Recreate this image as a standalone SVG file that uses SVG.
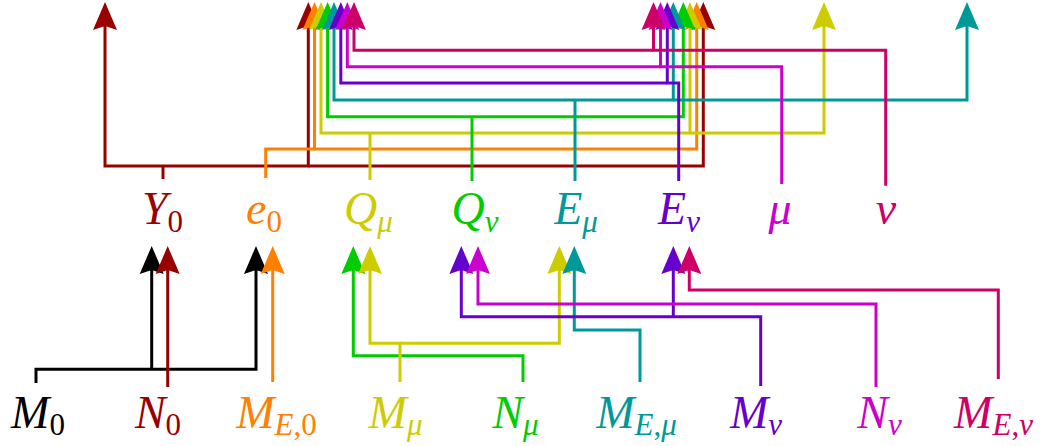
<svg xmlns="http://www.w3.org/2000/svg" width="1045" height="446" viewBox="0 0 1045 446">
<style>
.lbl{font-family:"Liberation Serif","DejaVu Serif",serif;font-style:italic;font-size:46px;text-anchor:middle}
.sub{font-size:31px}
.up{font-style:normal}
.c path{fill:none;stroke-width:3;stroke-linejoin:miter}
.k{stroke:#000000}.dr{stroke:#990000}.or{stroke:#ff8000}.ye{stroke:#cccc00}.gr{stroke:#00cc00}
.te{stroke:#009999}.pu{stroke:#6600cc}.ma{stroke:#cc00cc}.cr{stroke:#cc0066}
</style>
<defs>
<marker id="ak" markerUnits="userSpaceOnUse" orient="auto" refX="0" refY="0" markerWidth="40" markerHeight="40" overflow="visible"><path d="M24,0 L-4,-12 L0,0 L-4,12 Z" fill="#000000"/></marker>
<marker id="adr" markerUnits="userSpaceOnUse" orient="auto" refX="0" refY="0" markerWidth="40" markerHeight="40" overflow="visible"><path d="M24,0 L-4,-12 L0,0 L-4,12 Z" fill="#990000"/></marker>
<marker id="aor" markerUnits="userSpaceOnUse" orient="auto" refX="0" refY="0" markerWidth="40" markerHeight="40" overflow="visible"><path d="M24,0 L-4,-12 L0,0 L-4,12 Z" fill="#ff8000"/></marker>
<marker id="aye" markerUnits="userSpaceOnUse" orient="auto" refX="0" refY="0" markerWidth="40" markerHeight="40" overflow="visible"><path d="M24,0 L-4,-12 L0,0 L-4,12 Z" fill="#cccc00"/></marker>
<marker id="agr" markerUnits="userSpaceOnUse" orient="auto" refX="0" refY="0" markerWidth="40" markerHeight="40" overflow="visible"><path d="M24,0 L-4,-12 L0,0 L-4,12 Z" fill="#00cc00"/></marker>
<marker id="ate" markerUnits="userSpaceOnUse" orient="auto" refX="0" refY="0" markerWidth="40" markerHeight="40" overflow="visible"><path d="M24,0 L-4,-12 L0,0 L-4,12 Z" fill="#009999"/></marker>
<marker id="apu" markerUnits="userSpaceOnUse" orient="auto" refX="0" refY="0" markerWidth="40" markerHeight="40" overflow="visible"><path d="M24,0 L-4,-12 L0,0 L-4,12 Z" fill="#6600cc"/></marker>
<marker id="ama" markerUnits="userSpaceOnUse" orient="auto" refX="0" refY="0" markerWidth="40" markerHeight="40" overflow="visible"><path d="M24,0 L-4,-12 L0,0 L-4,12 Z" fill="#cc00cc"/></marker>
<marker id="acr" markerUnits="userSpaceOnUse" orient="auto" refX="0" refY="0" markerWidth="40" markerHeight="40" overflow="visible"><path d="M24,0 L-4,-12 L0,0 L-4,12 Z" fill="#cc0066"/></marker>
</defs>
<rect width="1045" height="446" fill="#ffffff"/>
<g id="connectors" class="c">
<path class="dr" d="M163,179 V166"/>
<path class="dr" d="M163,166 H105 V26" marker-end="url(#adr)"/>
<path class="dr" d="M163,166 H308.3 V26" marker-end="url(#adr)"/>
<path class="dr" d="M308.3,166 H703.3 V26" marker-end="url(#adr)"/>
<path class="or" d="M265.7,178 V149 H314.5 V26" marker-end="url(#aor)"/>
<path class="or" d="M314.5,149 H696.7 V26" marker-end="url(#aor)"/>
<path class="ye" d="M370,180 V133"/>
<path class="ye" d="M370,133 H321 V26" marker-end="url(#aye)"/>
<path class="ye" d="M370,133 H690 V26" marker-end="url(#aye)"/>
<path class="ye" d="M690,133 H824 V26" marker-end="url(#aye)"/>
<path class="gr" d="M472,181 V116.7"/>
<path class="gr" d="M472,116.7 H327.6 V26" marker-end="url(#agr)"/>
<path class="gr" d="M472,116.7 H683.3 V26" marker-end="url(#agr)"/>
<path class="te" d="M575,181 V100"/>
<path class="te" d="M575,100 H334 V26" marker-end="url(#ate)"/>
<path class="te" d="M575,100 H673.3 V26" marker-end="url(#ate)"/>
<path class="te" d="M673.3,100 H967 V26" marker-end="url(#ate)"/>
<path class="pu" d="M678.7,181 V83 H667.3 V26" marker-end="url(#apu)"/>
<path class="pu" d="M667.3,83 H340.8 V26" marker-end="url(#apu)"/>
<path class="ma" d="M781.7,184 V66.7 H660.5 V26" marker-end="url(#ama)"/>
<path class="ma" d="M660.5,66.7 H347.3 V26" marker-end="url(#ama)"/>
<path class="cr" d="M885.7,185.7 V50.3 H653.5 V26" marker-end="url(#acr)"/>
<path class="cr" d="M653.5,50.3 H354 V26" marker-end="url(#acr)"/>
<path class="k" d="M36,383 V369.3 H256 V270" marker-end="url(#ak)"/>
<path class="k" d="M151.7,369.3 V270" marker-end="url(#ak)"/>
<path class="dr" d="M167.7,387 V270" marker-end="url(#adr)"/>
<path class="or" d="M272.7,382 V270" marker-end="url(#aor)"/>
<path class="gr" d="M523,382 V355.7 H353.3 V270" marker-end="url(#agr)"/>
<path class="ye" d="M400,382 V343.3 H370 V270" marker-end="url(#aye)"/>
<path class="ye" d="M400,343.3 H559.3 V270" marker-end="url(#aye)"/>
<path class="te" d="M640,382 V330 H574.3 V270" marker-end="url(#ate)"/>
<path class="pu" d="M760.7,386 V316.7 H461.3 V270" marker-end="url(#apu)"/>
<path class="pu" d="M673.3,316.7 V270" marker-end="url(#apu)"/>
<path class="ma" d="M876,387 V304 H478 V270" marker-end="url(#ama)"/>
<path class="cr" d="M998.3,379 V290 H689.3 V270" marker-end="url(#acr)"/>
</g>
<g id="Y0"><text class="lbl" x="162.5" y="223.5" fill="#990000">Y<tspan class="sub up" dy="8">0</tspan></text></g>
<g id="e0"><text class="lbl" x="264" y="223.5" fill="#ff8000">e<tspan class="sub up" dy="8">0</tspan></text></g>
<g id="Qmu"><text class="lbl" x="368.5" y="223.5" fill="#cccc00">Q<tspan class="sub" dy="8">μ</tspan></text></g>
<g id="Qnu"><text class="lbl" x="475" y="223.5" fill="#00cc00">Q<tspan class="sub" dy="8">ν</tspan></text></g>
<g id="Emu"><text class="lbl" x="576" y="223.5" fill="#009999">E<tspan class="sub" dy="8">μ</tspan></text></g>
<g id="Enu"><text class="lbl" x="679" y="223.5" fill="#6600cc">E<tspan class="sub" dy="8">ν</tspan></text></g>
<g id="mu"><text class="lbl" x="780" y="223.5" fill="#cc00cc">μ</text></g>
<g id="nu"><text class="lbl" x="886" y="223.5" fill="#cc0066">ν</text></g>
<g id="M0"><text class="lbl" x="38" y="428" fill="#000000">M<tspan class="sub up" dy="7">0</tspan></text></g>
<g id="N0"><text class="lbl" x="158" y="428" fill="#990000">N<tspan class="sub up" dy="7">0</tspan></text></g>
<g id="ME0"><text class="lbl" x="276.5" y="428" fill="#ff8000">M<tspan class="sub" dy="7">E<tspan class="up">,0</tspan></tspan></text></g>
<g id="Mmu"><text class="lbl" x="395.5" y="428" fill="#cccc00">M<tspan class="sub" dy="7">μ</tspan></text></g>
<g id="Nmu"><text class="lbl" x="515.5" y="428" fill="#00cc00">N<tspan class="sub" dy="7">μ</tspan></text></g>
<g id="MEmu"><text class="lbl" x="636.5" y="428" fill="#009999">M<tspan class="sub" dy="7">E<tspan class="up">,</tspan>μ</tspan></text></g>
<g id="Mnu"><text class="lbl" x="756" y="428" fill="#6600cc">M<tspan class="sub" dy="7">ν</tspan></text></g>
<g id="Nnu"><text class="lbl" x="879.5" y="428" fill="#cc00cc">N<tspan class="sub" dy="7">ν</tspan></text></g>
<g id="MEnu"><text class="lbl" x="993.5" y="428" fill="#cc0066">M<tspan class="sub" dy="7">E<tspan class="up">,</tspan>ν</tspan></text></g>
</svg>
